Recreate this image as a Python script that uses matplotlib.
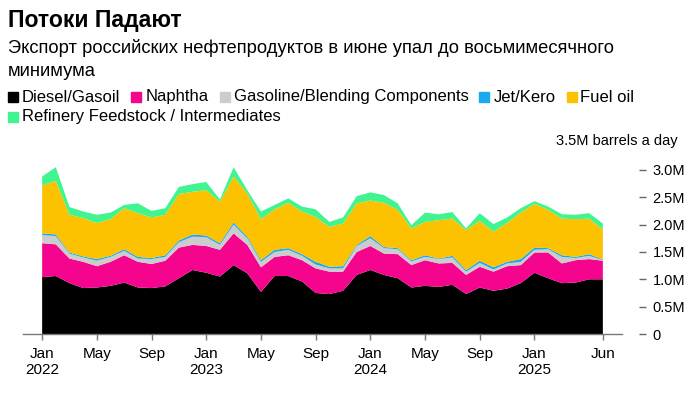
import numpy as np
import matplotlib.pyplot as plt
from matplotlib.patches import Rectangle

plt.rcParams['font.family'] = ['Liberation Sans', 'DejaVu Sans']

# monthly exports, million barrels a day, Jan 2022 .. Jun 2025
diesel = [1.04, 1.06, 0.93, 0.84, 0.85, 0.88, 0.94, 0.85, 0.84, 0.87, 1.02, 1.17,
          1.12, 1.05, 1.26, 1.11, 0.77, 1.06, 1.06, 0.96, 0.75, 0.73, 0.79, 1.08,
          1.17, 1.08, 1.02, 0.85, 0.88, 0.86, 0.90, 0.73, 0.85, 0.79, 0.83, 0.93,
          1.12, 1.02, 0.93, 0.94, 1.00, 1.00]
naphtha = [0.62, 0.58, 0.45, 0.48, 0.39, 0.44, 0.50, 0.47, 0.44, 0.47, 0.56, 0.46,
           0.49, 0.49, 0.58, 0.52, 0.45, 0.35, 0.38, 0.39, 0.45, 0.41, 0.35, 0.42,
           0.44, 0.39, 0.44, 0.41, 0.47, 0.43, 0.40, 0.35, 0.38, 0.35, 0.41, 0.33,
           0.37, 0.47, 0.36, 0.41, 0.37, 0.34]
gasoline = [0.15, 0.15, 0.09, 0.08, 0.10, 0.09, 0.08, 0.06, 0.09, 0.07, 0.10, 0.15,
            0.16, 0.09, 0.16, 0.12, 0.10, 0.09, 0.10, 0.08, 0.07, 0.06, 0.06, 0.11,
            0.14, 0.10, 0.09, 0.07, 0.06, 0.08, 0.10, 0.06, 0.07, 0.04, 0.05, 0.06,
            0.05, 0.06, 0.12, 0.04, 0.06, 0.01]
jet = [0.03, 0.03, 0.02, 0.02, 0.03, 0.02, 0.03, 0.03, 0.02, 0.03, 0.03, 0.04,
       0.03, 0.03, 0.04, 0.03, 0.03, 0.04, 0.03, 0.03, 0.05, 0.03, 0.04, 0.02,
       0.04, 0.02, 0.02, 0.02, 0.03, 0.01, 0.03, 0.03, 0.04, 0.04, 0.03, 0.05,
       0.04, 0.02, 0.03, 0.02, 0.03, 0.01]
fuel_oil = [0.88, 0.98, 0.69, 0.70, 0.66, 0.67, 0.75, 0.80, 0.74, 0.74, 0.85, 0.78,
            0.83, 0.76, 0.84, 0.79, 0.75, 0.74, 0.83, 0.78, 0.82, 0.73, 0.78, 0.76,
            0.65, 0.81, 0.70, 0.58, 0.61, 0.70, 0.68, 0.73, 0.73, 0.65, 0.71, 0.85,
            0.80, 0.70, 0.67, 0.69, 0.65, 0.55]
feedstock = [0.16, 0.25, 0.14, 0.12, 0.15, 0.12, 0.06, 0.18, 0.12, 0.12, 0.13, 0.14,
             0.15, 0.04, 0.17, 0.06, 0.14, 0.08, 0.08, 0.09, 0.14, 0.09, 0.11, 0.13,
             0.15, 0.14, 0.12, 0.06, 0.17, 0.11, 0.12, 0.03, 0.14, 0.14, 0.10, 0.08,
             0.05, 0.06, 0.08, 0.08, 0.10, 0.11]

names = ['Diesel/Gasoil', 'Naphtha', 'Gasoline/Blending Components', 'Jet/Kero',
         'Fuel oil', 'Refinery Feedstock / Intermediates']
colors = ['#000000', '#f5048e', '#cccccc', '#1aa9f0', '#fcc200', '#40f590']

tick_idx = [0, 4, 8, 12, 16, 20, 24, 28, 32, 36, 41]
tick_lbl = ['Jan\n2022', 'May', 'Sep', 'Jan\n2023', 'May', 'Sep', 'Jan\n2024',
            'May', 'Sep', 'Jan\n2025', 'Jun']
y_ticks = [0, 0.5, 1.0, 1.5, 2.0, 2.5, 3.0]
y_lbl = ['0', '0.5M', '1.0M', '1.5M', '2.0M', '2.5M', '3.0M']

W, H = 700, 397
fig = plt.figure(figsize=(7, 3.97), dpi=100)
ax = fig.add_axes([23 / W, 1 - 334 / H, 599 / W, 191.4 / H])

x = np.arange(len(diesel))
ax.stackplot(x, diesel, naphtha, gasoline, jet, fuel_oil, feedstock,
             colors=colors, linewidth=0)

ax.set_xlim(-1.4, 42.4)
ax.set_ylim(0, 3.5)

for s in ['top', 'left', 'right']:
    ax.spines[s].set_visible(False)
ax.spines['bottom'].set_color('#777777')
ax.spines['bottom'].set_linewidth(1)

ax.set_xticks(tick_idx)
ax.set_xticklabels(tick_lbl, fontsize=11)
ax.tick_params(axis='x', direction='out', length=4.5, width=1, color='#777777', pad=5)

ax.yaxis.tick_right()
ax.spines['right'].set_position(('outward', 17))
ax.set_yticks(y_ticks)
ax.set_yticklabels(y_lbl, fontsize=10.5)
ax.tick_params(axis='y', direction='in', length=5, width=1, color='#666666', pad=5)

fig.text(678 / W, 1 - 141 / H, '3.5M barrels a day', ha='right', va='center', fontsize=10.5)

fig.text(8 / W, 1 - 20 / H, 'Потоки Падают', fontsize=16.6, fontweight='bold', va='center')
fig.text(8 / W, 1 - 48 / H, 'Экспорт российских нефтепродуктов в июне упал до восьмимесячного',
         fontsize=13.2, va='center')
fig.text(8 / W, 1 - 72 / H, 'минимума', fontsize=13.2, va='center')

# legend, flowing in two rows
fig.canvas.draw()
r = fig.canvas.get_renderer()
rows = [[0, 1, 2, 3, 4], [5]]
row_y = [97, 117]
for row, yy in zip(rows, row_y):
    xp = 8
    for i in row:
        fig.patches.append(Rectangle((xp / W, 1 - (yy + 5) / H), 10 / W, 10 / H,
                                     transform=fig.transFigure, color=colors[i]))
        t = fig.text((xp + 14) / W, 1 - yy / H, names[i], fontsize=12, va='center')
        bb = t.get_window_extent(r)
        xp = xp + 14 + bb.width + 11

fig.savefig('out.png', dpi=100)
